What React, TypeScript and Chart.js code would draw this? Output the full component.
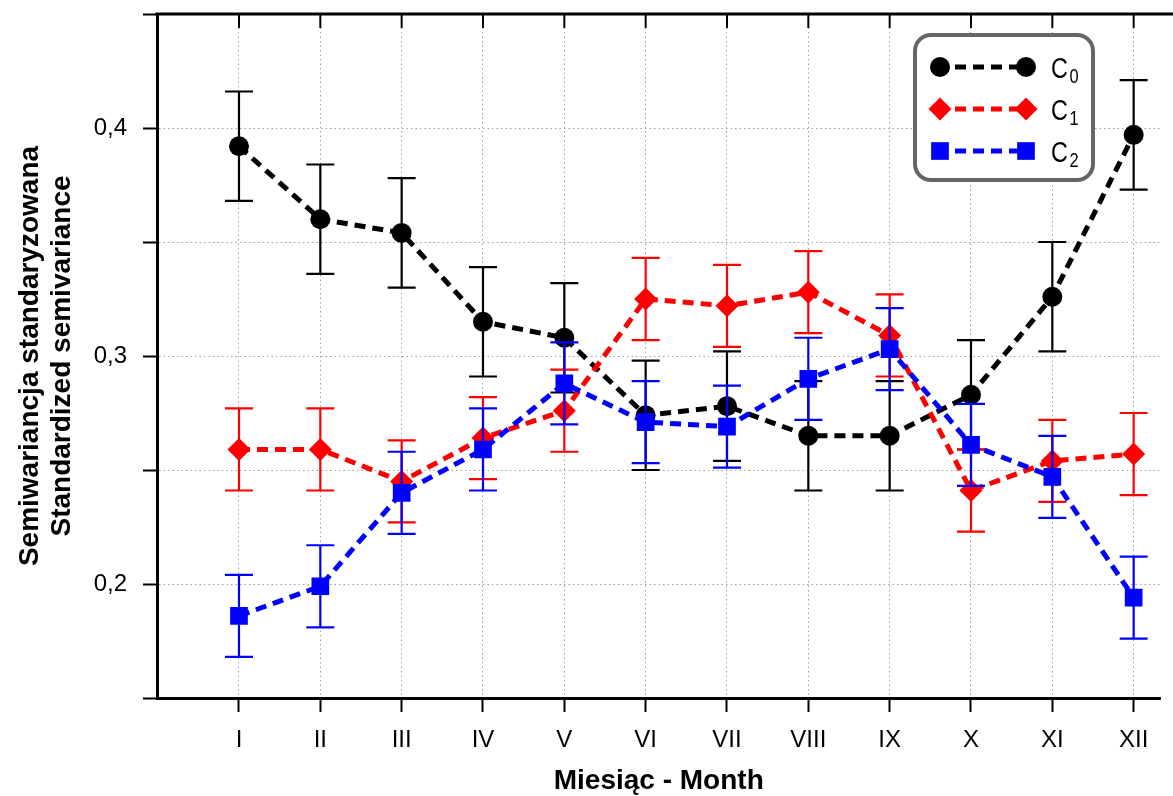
import React, { useEffect, useRef } from 'react';
import { Chart, registerables } from 'chart.js';

Chart.register(...registerables);

const FONT = "'Liberation Sans', Arial, Helvetica, sans-serif";

const MONTHS = ['I', 'II', 'III', 'IV', 'V', 'VI', 'VII', 'VIII', 'IX', 'X', 'XI', 'XII'];

const C0 = [0.392, 0.360, 0.354, 0.315, 0.308, 0.274, 0.278, 0.265, 0.265, 0.283, 0.326, 0.397];
const C0_ERR = [0.024, 0.024, 0.024, 0.024, 0.024, 0.024, 0.024, 0.024, 0.024, 0.024, 0.024, 0.024];

const C1 = [0.259, 0.259, 0.245, 0.264, 0.276, 0.325, 0.322, 0.328, 0.309, 0.241, 0.254, 0.257];
const C1_ERR = [0.018, 0.018, 0.018, 0.018, 0.018, 0.018, 0.018, 0.018, 0.018, 0.018, 0.018, 0.018];

const C2 = [0.186, 0.199, 0.240, 0.259, 0.288, 0.271, 0.269, 0.290, 0.303, 0.261, 0.247, 0.194];
const C2_ERR = [0.018, 0.018, 0.018, 0.018, 0.018, 0.018, 0.018, 0.018, 0.018, 0.018, 0.018, 0.018];

const Y_TICKS = [0.15, 0.2, 0.25, 0.3, 0.35, 0.4, 0.45];
const Y_LABELS = ['', '0,2', '', '0,3', '', '0,4', ''];

const SERIES_BASE = ['C', 'C', 'C'];
const SERIES_SUB = ['0', '1', '2'];

const Y_TITLE = ['Semiwariancja standaryzowana', 'Standardized semivariance'];
const X_TITLE = 'Miesiąc - Month';

const COLORS = ['#000000', '#ff0000', '#0000ff'];
const STYLES = ['circle', 'rectRot', 'rect'];
const RADII = [10, 11.5, 12.5];

function drawMarker(ctx: CanvasRenderingContext2D, style: string, x: number, y: number, r: number, color: string) {
  ctx.save();
  ctx.fillStyle = color;
  ctx.beginPath();
  if (style === 'circle') {
    ctx.arc(x, y, r, 0, Math.PI * 2);
  } else if (style === 'rectRot') {
    ctx.moveTo(x, y - r);
    ctx.lineTo(x + r, y);
    ctx.lineTo(x, y + r);
    ctx.lineTo(x - r, y);
    ctx.closePath();
  } else {
    const s = r * Math.SQRT1_2;
    ctx.rect(x - s, y - s, 2 * s, 2 * s);
  }
  ctx.fill();
  ctx.restore();
}

const errorBarPlugin = {
  id: 'errorBars',
  beforeDatasetDraw(chart: any, args: any) {
    const ds = chart.data.datasets[args.index];
    const errs: number[] = ds.errors;
    if (!errs) return;
    const ctx = chart.ctx;
    const xs = chart.scales.x;
    const ys = chart.scales.y;
    ctx.save();
    ctx.strokeStyle = ds.borderColor;
    ctx.lineWidth = 2.2;
    ctx.setLineDash([]);
    ds.data.forEach((p: any, i: number) => {
      const x = xs.getPixelForValue(p.x);
      const yt = ys.getPixelForValue(p.y + errs[i]);
      const yb = ys.getPixelForValue(p.y - errs[i]);
      ctx.beginPath();
      ctx.moveTo(x, yt);
      ctx.lineTo(x, yb);
      ctx.moveTo(x - 14, yt);
      ctx.lineTo(x + 14, yt);
      ctx.moveTo(x - 14, yb);
      ctx.lineTo(x + 14, yb);
      ctx.stroke();
    });
    ctx.restore();
  },
};

const frameAndLegendPlugin = {
  id: 'frameAndLegend',
  afterDraw(chart: any) {
    const ctx: CanvasRenderingContext2D = chart.ctx;
    const area = chart.chartArea;
    const xs = chart.scales.x;
    ctx.save();
    // top axis line
    ctx.strokeStyle = '#000';
    ctx.lineWidth = 3;
    ctx.setLineDash([]);
    ctx.beginPath();
    ctx.moveTo(area.left - 1.5, area.top);
    ctx.lineTo(chart.width, area.top);
    ctx.stroke();
    // top inward ticks
    ctx.lineWidth = 2;
    MONTHS.forEach((_, i) => {
      const x = xs.getPixelForValue(i);
      ctx.beginPath();
      ctx.moveTo(x, area.top);
      ctx.lineTo(x, area.top + 14);
      ctx.stroke();
    });

    // legend box
    const bx = 915, by = 35, bw = 178, bh = 145;
    ctx.beginPath();
    (ctx as any).roundRect(bx, by, bw, bh, 16);
    ctx.fillStyle = '#ffffff';
    ctx.fill();
    ctx.lineWidth = 4;
    ctx.strokeStyle = '#666666';
    ctx.stroke();

    const rows = [67, 109, 151];
    chart.data.datasets.forEach((ds: any, i: number) => {
      const y = rows[i];
      const xl = 940, xr = 1026;
      ctx.save();
      ctx.strokeStyle = ds.borderColor;
      ctx.lineWidth = 5;
      ctx.setLineDash([11, 7]);
      ctx.beginPath();
      ctx.moveTo(xl + 15, y);
      ctx.lineTo(xr, y);
      ctx.stroke();
      ctx.restore();
      drawMarker(ctx, STYLES[i], xl, y, RADII[i], COLORS[i]);
      drawMarker(ctx, STYLES[i], xr, y, RADII[i], COLORS[i]);

      ctx.save();
      ctx.fillStyle = '#000';
      ctx.textBaseline = 'alphabetic';
      ctx.textAlign = 'left';
      ctx.translate(1051, y + 11);
      ctx.scale(0.78, 1);
      ctx.font = `30px ${FONT}`;
      ctx.fillText(SERIES_BASE[i], 0, 0);
      const w = ctx.measureText(SERIES_BASE[i]).width;
      ctx.font = `21px ${FONT}`;
      ctx.fillText(SERIES_SUB[i], w + 2, 5);
      ctx.restore();
    });
    ctx.restore();
  },
};

export default function App() {
  const ref = useRef<HTMLCanvasElement>(null);

  useEffect(() => {
    const canvas = ref.current;
    if (!canvas) return;
    const series = [C0, C1, C2];
    const errs = [C0_ERR, C1_ERR, C2_ERR];
    const datasets = series.map((vals, i) => ({
      label: SERIES_BASE[i] + SERIES_SUB[i],
      data: vals.map((y, idx) => ({ x: idx, y })),
      errors: errs[i],
      borderColor: COLORS[i],
      backgroundColor: COLORS[i],
      borderWidth: 5,
      borderDash: [11, 7],
      pointStyle: STYLES[i],
      pointRadius: RADII[i],
      pointHoverRadius: RADII[i],
      pointBorderWidth: 0,
      pointBackgroundColor: COLORS[i],
      pointBorderColor: COLORS[i],
      fill: false,
      tension: 0,
      order: 2 - i,
    }));

    const chart = new Chart(canvas, {
      type: 'line',
      data: { datasets },
      plugins: [errorBarPlugin, frameAndLegendPlugin],
      options: {
        responsive: false,
        animation: false,
        devicePixelRatio: 1,
        layout: { padding: { top: 14, right: 0, left: 0, bottom: 0 } },
        plugins: {
          legend: { display: false },
          tooltip: { enabled: false },
        },
        scales: {
          x: {
            type: 'linear',
            position: 'bottom',
            min: -1.008,
            max: 11.33,
            afterBuildTicks: (scale: any) => {
              scale.ticks = MONTHS.map((_, i) => ({ value: i }));
            },
            afterFit: (scale: any) => {
              scale.height = 98;
              scale.paddingLeft = 0;
              scale.paddingRight = 0;
            },
            ticks: {
              autoSkip: false,
              maxRotation: 0,
              padding: 14,
              color: '#000',
              font: { family: FONT, size: 24 },
              callback: (v: any) => MONTHS[v] ?? '',
            },
            grid: {
              color: '#a0a0a0',
              lineWidth: 1,
              tickLength: 14,
              tickWidth: 2,
              tickColor: '#000',
            },
            border: { display: true, color: '#000', width: 3, dash: [1.5, 3] },
            title: {
              display: true,
              text: X_TITLE,
              color: '#000',
              font: { family: FONT, size: 28, weight: 'bold', lineHeight: 30 / 28 },
              padding: { top: 0, bottom: 0 },
            },
          },
          y: {
            type: 'linear',
            position: 'left',
            min: 0.15,
            max: 0.45,
            afterBuildTicks: (scale: any) => {
              scale.ticks = Y_TICKS.map((v) => ({ value: v }));
            },
            afterFit: (scale: any) => {
              scale.width = 157;
              scale.paddingTop = 0;
              scale.paddingBottom = 0;
            },
            ticks: {
              padding: 16,
              color: '#000',
              font: { family: FONT, size: 24 },
              callback: (_v: any, idx: number) => Y_LABELS[idx],
            },
            grid: {
              color: '#a0a0a0',
              lineWidth: 1,
              tickLength: 14,
              tickWidth: 2,
              tickColor: '#000',
            },
            border: { display: true, color: '#000', width: 3, dash: [1.5, 3] },
            title: {
              display: true,
              text: Y_TITLE,
              color: '#000',
              font: { family: FONT, size: 28, weight: 'bold', lineHeight: 32 / 28 },
              padding: { top: 14, bottom: 0 },
            },
          },
        },
      } as any,
    });
    return () => chart.destroy();
  }, []);

  return (
    <div style={{ position: 'fixed', left: 0, top: 0, width: 1173, height: 796, background: '#ffffff' }}>
      <canvas ref={ref} width={1173} height={796} style={{ display: 'block', width: 1173, height: 796 }} />
    </div>
  );
}
